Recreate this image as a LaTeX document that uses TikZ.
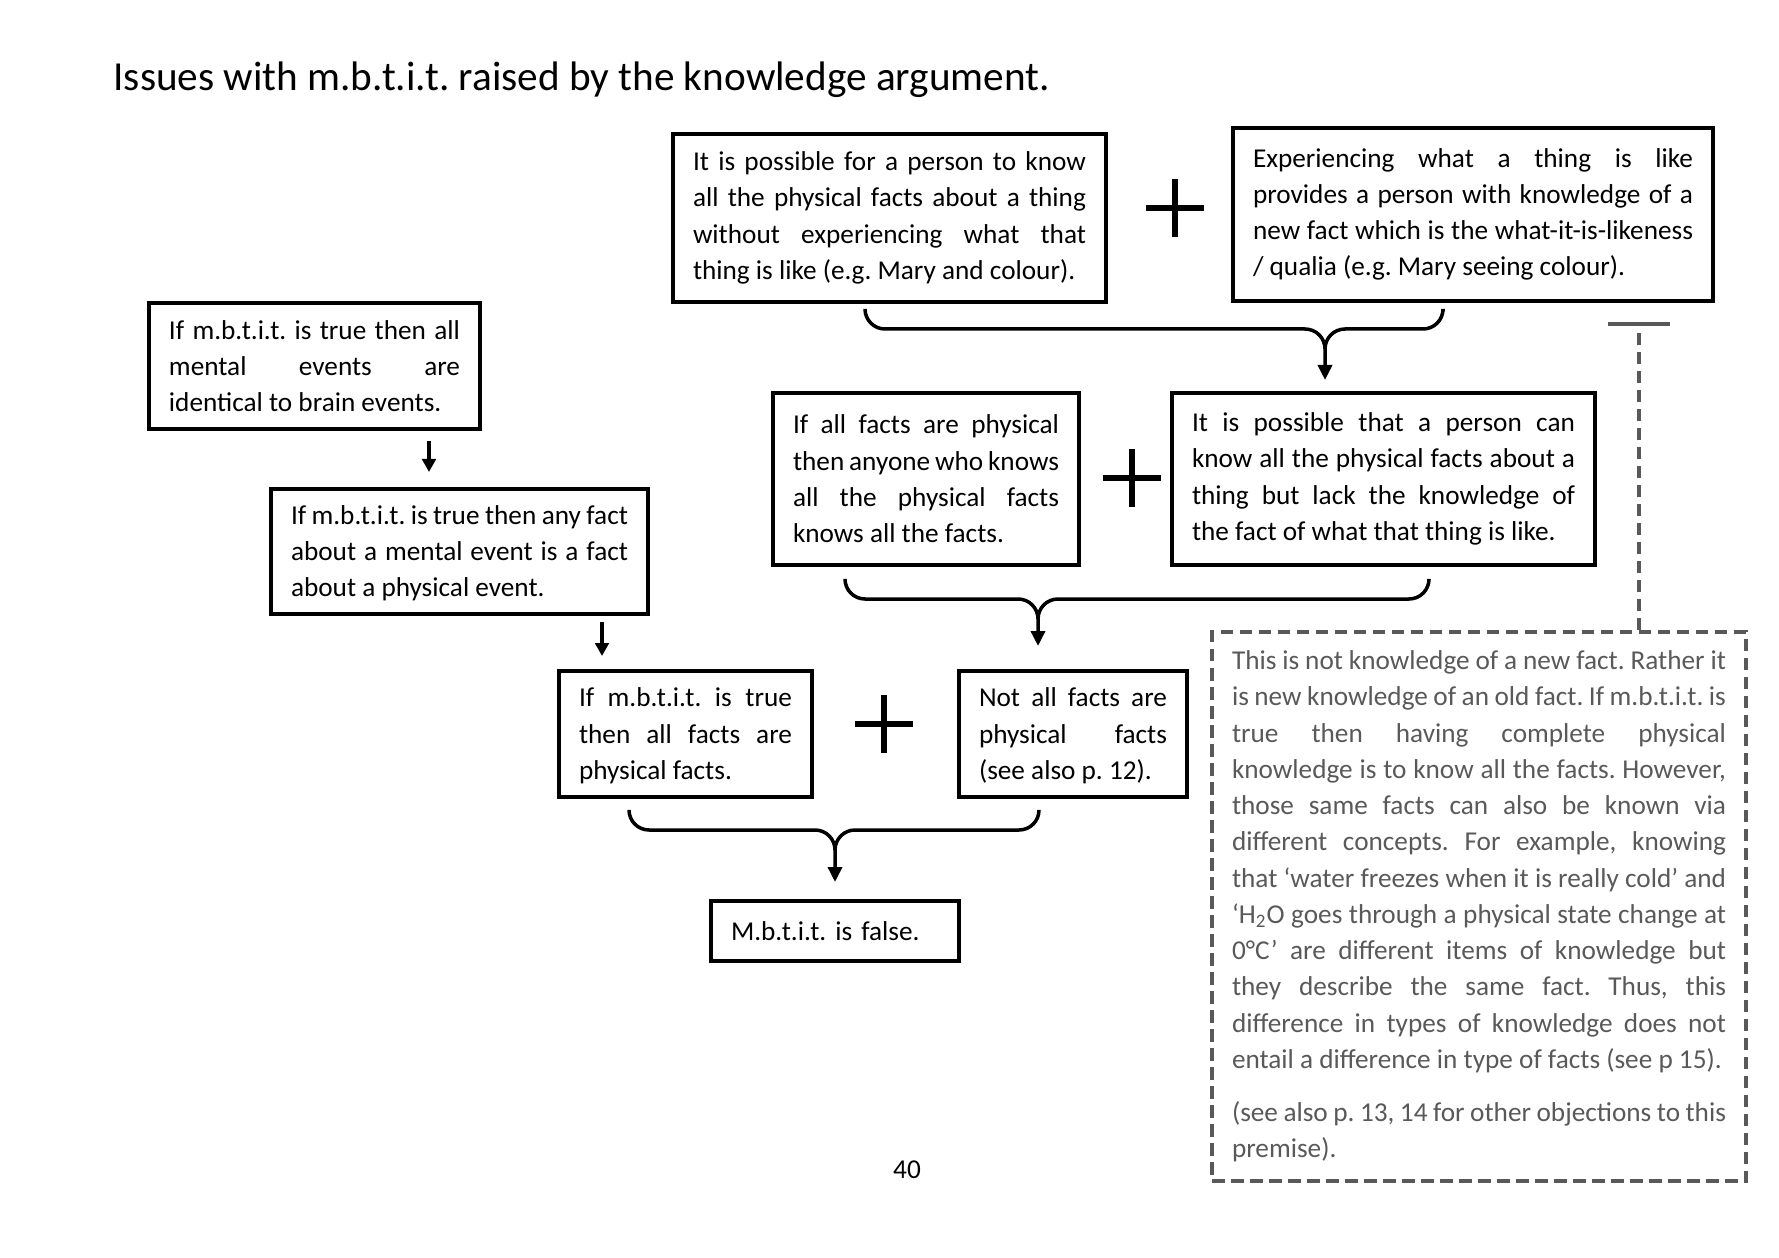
\documentclass[tikz,border=0pt]{standalone}
\usepackage{fontspec}
\setmainfont{Carlito}
\usepackage{xcolor}
\usetikzlibrary{arrows.meta}
\setlength{\parindent}{0pt}
\frenchspacing
\definecolor{kaGrey}{HTML}{595959}
\newcommand{\kaPlus}[1]{\draw[line width=2.6pt] (#1) ++(-29,0) -- ++(58,0) (#1) ++(0,-29) -- ++(0,58);}

\begin{document}
\begin{tikzpicture}[x=0.4pt,y=-0.4pt,
  kabox/.style={draw=black,line width=1.6pt,inner xsep=8pt,inner ysep=0pt,align=justify,font=\fontsize{10.9}{14.5}\selectfont},
  kareply/.style={kabox,draw=kaGrey,text=kaGrey,line width=1.5pt,dash pattern=on 5pt off 2.6pt},
  kabrace/.style={line width=1.4pt,rounded corners=8pt},
  katip/.style={-{Triangle[length=6pt,width=5.6pt]}},
  kasmall/.style={line width=1.3pt,-{Triangle[length=5.2pt,width=5.4pt]}}]
\useasboundingbox (0,0) rectangle (1779,1258);
\node[anchor=base west, inner sep=0pt, font=\fontsize{16.5}{20}\selectfont] (title) at (113,91) {Issues with m.b.t.i.t. raised by the knowledge argument.};
\node[kabox, text width=157.2pt, minimum height=67.2pt] (mary) at (889.5,218) {It is possible for a person to know\linebreak all the physical facts about a thing\linebreak without experiencing what that\linebreak thing is like (e.g. Mary and colour).};
\node[kabox, text width=176pt, minimum height=69.2pt] (qualia) at (1473,214.5) {Experiencing what a thing is like\linebreak provides a person with knowledge of a\linebreak new fact which is the what-it-is-likeness\linebreak / qualia (e.g. Mary seeing colour).};
\node[kabox, text width=116.4pt, minimum height=50.4pt] (identity) at (314.5,366) {If m.b.t.i.t. is true then all\linebreak mental events are\linebreak identical to brain events.};
\node[kabox, text width=134.8pt, minimum height=50pt] (anyfact) at (459.5,551.5) {\rule{0pt}{9pt}If m.b.t.i.t. is true then any fact\linebreak about a mental event is a fact\linebreak about a physical event.};
\node[kabox, text width=106.4pt, minimum height=68.8pt] (allphys) at (926,479) {If all facts are physical\linebreak then anyone who knows\linebreak all the physical facts\linebreak knows all the facts.};
\node[kabox, text width=153.2pt, minimum height=68.8pt] (lackfact) at (1383.5,479) {It is possible that a person can\linebreak know all the physical facts about a\linebreak thing but lack the knowledge of\linebreak the fact of what that thing is like.};
\node[kabox, text width=85.2pt, minimum height=50.4pt] (mbtitphys) at (685.5,734) {\rule{0pt}{9pt}If m.b.t.i.t. is true\linebreak then all facts are\linebreak physical facts.};
\node[kabox, text width=75.2pt, minimum height=50.4pt] (notall) at (1073,734) {\rule{0pt}{9pt}Not all facts are\linebreak physical facts\linebreak (see also p. 12).};
\node[kabox, align=left, text width=83.2pt, minimum height=24pt] (false) at (835,931) {M.b.t.i.t. is false.};
\node[kareply, text width=197.6pt, minimum height=219.6pt] (reply) at (1479,906.5) {This is not knowledge of a new fact. Rather it\linebreak is new knowledge of an old fact. If m.b.t.i.t. is\linebreak true then having complete physical\linebreak knowledge is to know all the facts. However,\linebreak those same facts can also be known via\linebreak different concepts. For example, knowing\linebreak that ‘water freezes when it is really cold’ and\linebreak ‘H\textsubscript{2}O goes through a physical state change at\linebreak 0°C’ are different items of knowledge but\linebreak they describe the same fact. Thus, this\linebreak difference in types of knowledge does not\linebreak entail a difference in type of facts (see p 15).\par\vspace{6.8pt}(see also p. 13, 14 for other objections to this\linebreak premise).};
\node[font=\fontsize{10.9}{14.5}\selectfont] (pagenum) at (907,1170) {40};
\kaPlus{1175,208}
\kaPlus{1132,478}
\kaPlus{884,724}
\coordinate (j1) at (1325,329);
\coordinate (j2) at (1038,599);
\coordinate (j3) at (835,830);
\draw[kabrace,katip,shorten >=4.4pt] ([xshift=-9.8pt,yshift=-2.8pt]mary.south) |- (j1) -- (j1 |- lackfact.north);
\draw[kabrace] ([xshift=-12pt,yshift=-3.2pt]qualia.south) |- (j1) -- ([yshift=-8pt]j1);
\draw[kabrace,katip,shorten >=9.2pt] ([xshift=-32.4pt,yshift=-4.8pt]allphys.south) |- (j2) -- (j2 |- notall.north);
\draw[kabrace] ([xshift=18.2pt,yshift=-4.8pt]lackfact.south) |- (j2) -- ([yshift=-8pt]j2);
\draw[kabrace,katip,shorten >=6.8pt] ([xshift=-22.6pt,yshift=-4.4pt]mbtitphys.south) |- (j3) -- (j3 |- false.north);
\draw[kabrace] ([xshift=-13.6pt,yshift=-4.4pt]notall.south) |- (j3) -- ([yshift=-8pt]j3);
\coordinate (xa) at (429,0);
\coordinate (xb) at (602,0);
\draw[kasmall,shorten <=4pt,shorten >=6pt] (xa |- identity.south) -- (xa |- anyfact.north);
\draw[kasmall,shorten <=2.4pt,shorten >=5.2pt] (xb |- anyfact.south) -- (xb |- mbtitphys.north);
\coordinate (tee) at (1639,322);
\draw[draw=kaGrey,line width=1.8pt,dash pattern=on 5pt off 2.6pt,-{Bar[width=24.8pt,line width=1.6pt]}] (tee |- reply.north) -- (tee);
\end{tikzpicture}
\end{document}
